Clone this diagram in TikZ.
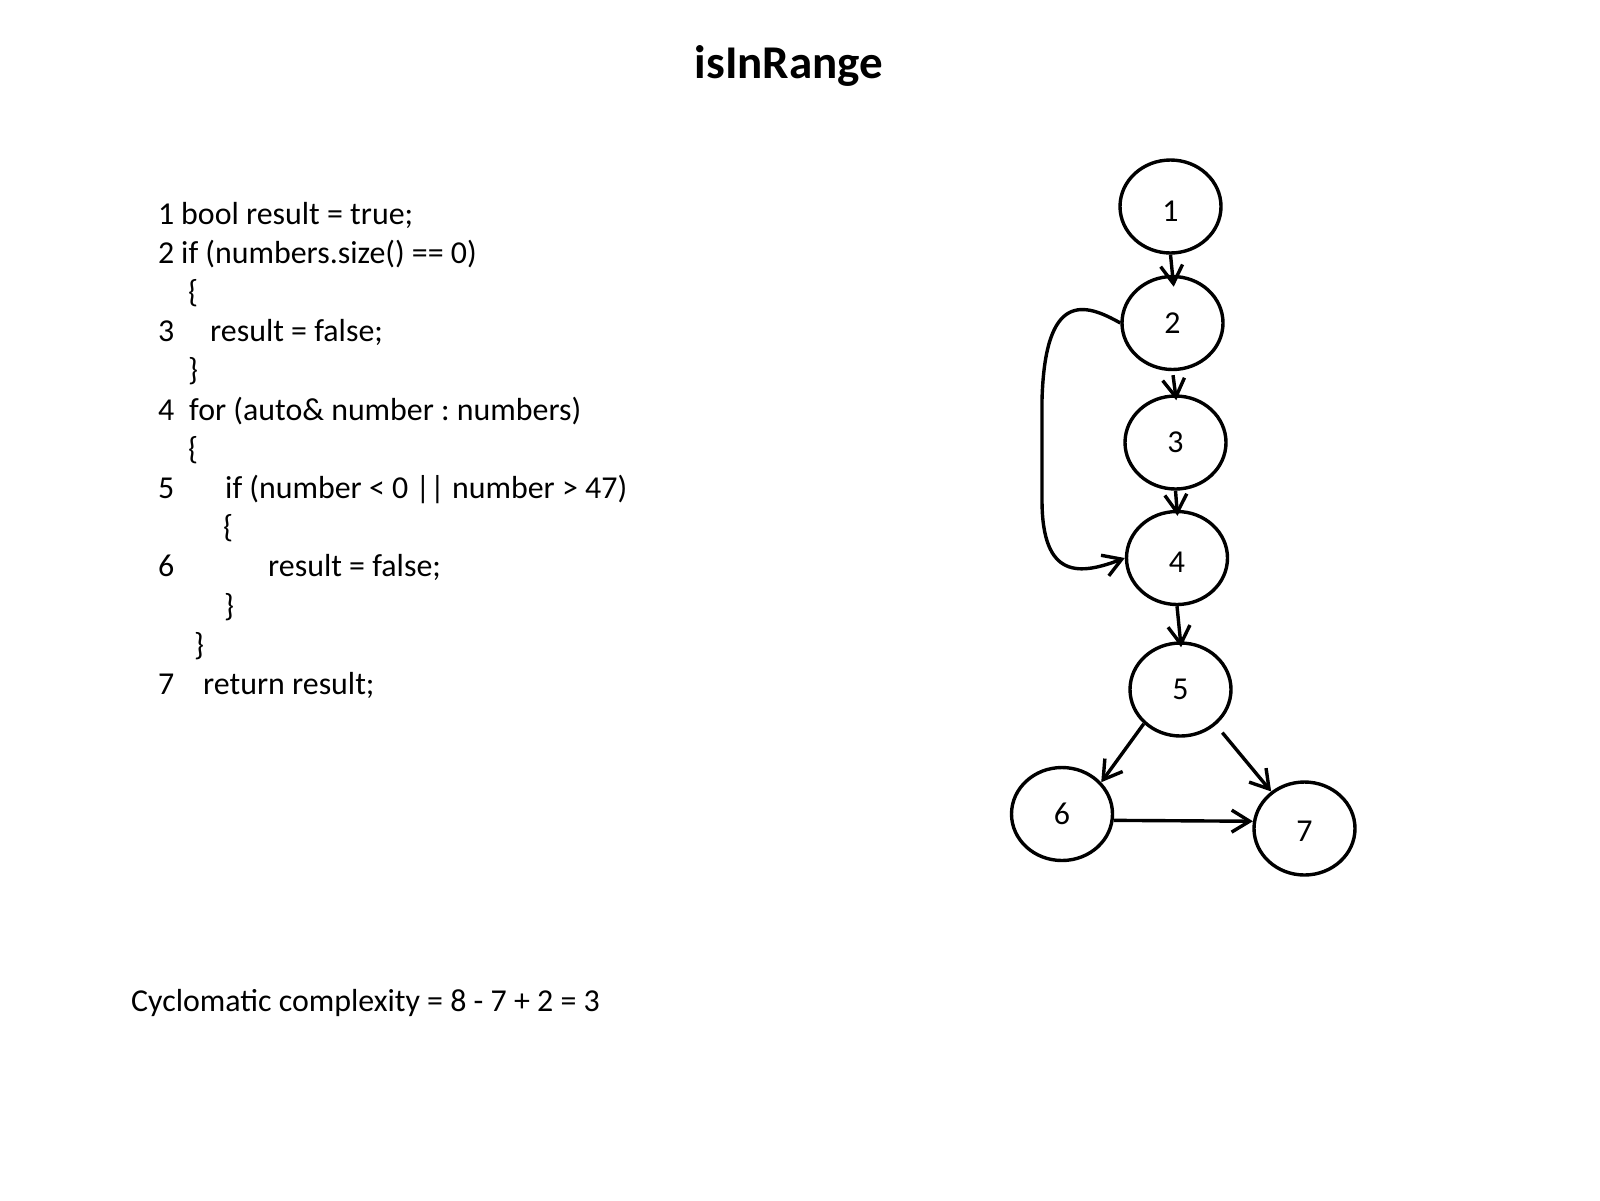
\documentclass[tikz,border=0pt]{standalone}
\usepackage{fontspec}
\setmainfont{Carlito}
\usetikzlibrary{shapes.geometric,arrows.meta}
\newcommand{\codesize}{\fontsize{31.9pt}{39pt}\selectfont}
\frenchspacing
\begin{document}
\begin{tikzpicture}[x=1pt, y=-1pt,
                    state/.style={ellipse, draw, line width=3.4pt, minimum width=101pt, minimum height=93pt, inner sep=0pt, font=\codesize},
                    code/.style={anchor=base west, inner sep=0pt, font=\codesize},
                    flow/.style={line width=3.4pt, -{Straight Barb[length=18pt, width=22pt]}, shorten >=-6pt}]
                    \useasboundingbox (0,0) rectangle (1600,1200);

                    \node[anchor=base, inner sep=0pt, font=\bfseries\fontsize{47pt}{56pt}\selectfont] (title) at (789,78) {isInRange};

                    \node[code] (num1) at (158,224) {1};
                    \node[code] (line1) at (181,224) {bool result = true;};
                    \node[code] (num2) at (158,263.2) {2};
                    \node[code] (line2) at (181,263.2) {if (numbers.size() == 0)};
                    \node[code] (open1) at (188,302.4) {\{};
                    \node[code] (num3) at (158,341.6) {3};
                    \node[code] (line3) at (210,341.6) {result = false;};
                    \node[code] (close1) at (188,380.8) {\}};
                    \node[code] (num4) at (158,420) {4};
                    \node[code] (line4) at (189,420) {for (auto\& number : numbers)};
                    \node[code] (open2) at (188,459.2) {\{};
                    \node[code] (num5) at (158,498.4) {5};
                    \node[code] (line5) at (225,498.4) {if (number < 0 || number > 47)};
                    \node[code] (open3) at (223,537.6) {\{};
                    \node[code] (num6) at (158,576.8) {6};
                    \node[code] (line6) at (268,576.8) {result = false;};
                    \node[code] (close3) at (224,616) {\}};
                    \node[code] (close2) at (194,655.2) {\}};
                    \node[code] (num7) at (158,694.4) {7};
                    \node[code] (line7) at (203,694.4) {return result;};

                    \node[code] (complexity) at (131,1011) {Cyclomatic complexity = 8 - 7 + 2 = 3};

                    \node[state] (n1) at (1170.5,206.5) {\raisebox{-5pt}[\height][0pt]{1}};
                    \node[state] (n2) at (1172.5,323) {2};
                    \node[state] (n3) at (1175.5,442.5) {3};
                    \node[state] (n4) at (1177,558) {\raisebox{-4pt}[\height][0pt]{4}};
                    \node[state] (n5) at (1180.5,689.5) {5};
                    \node[state] (n6) at (1062,814) {6};
                    \node[state] (n7) at (1304.5,828.5) {\raisebox{-3pt}[\height][0pt]{7}};

                    \draw[flow, shorten >=-12pt] (n1.south) -- (n2.north);
                    \draw[flow, shorten <=4pt] (n2.south) -- (n3.north);
                    \draw[flow] (n3.south) -- (n4.north);
                    \draw[flow] (n4.south) -- (n5.north);
                    \draw[flow, shorten >=0pt] (n5.223) -- (n6.39);
                    \draw[flow, shorten <=10pt, shorten >=0pt] (n5.315) -- (n7.132);
                    \draw[flow, shorten >=0pt] (n6.353) -- (n7.172);
                    \draw[flow, shorten >=0pt] (n2.west) .. controls (1085,303) and (1045,290) .. (1042,400)
                        -- (1042,500) .. controls (1042,580) and (1080,575) .. (n4.west);
                \end{tikzpicture}
\end{document}
